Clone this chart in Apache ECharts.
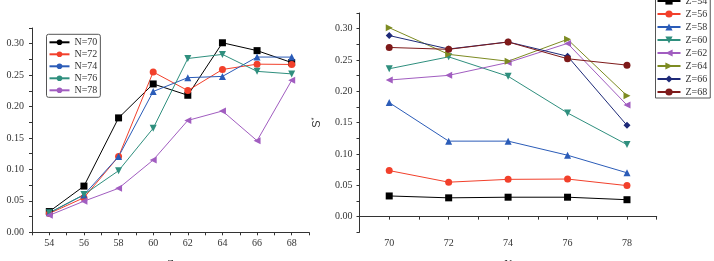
<!DOCTYPE html>
<html>
<head>
<meta charset="utf-8">
<script src="https://cdn.jsdelivr.net/npm/echarts@6/dist/echarts.min.js"></script>
<style>
  html, body { margin: 0; padding: 0; background: #fff; }
  #chart { width: 714px; height: 261px; }
</style>
</head>
<body>
<div id="chart"></div>
<script>
const zValues = [54, 56, 58, 60, 62, 64, 66, 68];
const nValues = [70, 72, 74, 76, 78];

// S* for each N over zValues
const sN70 = [0.033, 0.0735, 0.182, 0.236, 0.218, 0.3015, 0.289, 0.270];
const sN72 = [0.030, 0.055, 0.1205, 0.255, 0.2255, 0.259, 0.2675, 0.267];
const sN74 = [0.031, 0.0595, 0.1205, 0.224, 0.246, 0.248, 0.2788, 0.2787];
const sN76 = [0.031, 0.060, 0.098, 0.1655, 0.2765, 0.283, 0.256, 0.252];
const sN78 = [0.027, 0.0495, 0.070, 0.115, 0.178, 0.193, 0.1457, 0.2418];

const yTicksLeft = ['0.00', '0.05', '0.10', '0.15', '0.20', '0.25', '0.30'];

const nRows = [sN70, sN72, sN74, sN76, sN78];
const nColors = ['#000000', '#f2402b', '#2b5cb8', '#2f8f7e', '#a15dc0'];
const nSymbols = [['rect', 0], ['circle', 0], ['triangle', 0], ['triangle', 180], ['triangle', 90]];

const zColors = ['#000000', '#f2402b', '#2b5cb8', '#2f8f7e', '#a15dc0', '#7d8b22', '#1e2a78', '#7e1a1a'];
const zSymbols = [['rect', 0], ['circle', 0], ['triangle', 0], ['triangle', 180], ['triangle', 90],
  ['triangle', -90], ['diamond', 0], ['circle', 0]];

const serif = 'Liberation Serif';

function tickLabel(v) {
  const k = Math.round(v * 1000);
  return k % 50 === 0 ? (v).toFixed(2) : '';
}

function evenLabel(v) {
  return v % 2 === 0 ? String(v) : '';
}

function baseAxis() {
  return {
    axisLine: { show: true, lineStyle: { color: '#333', width: 1 } },
    axisTick: { show: true, length: 3, lineStyle: { color: '#333' } },
    axisLabel: { color: '#333', fontFamily: serif, fontSize: 10 },
    splitLine: { show: false },
  };
}

const series = [];
// legend-only series so the left legend shows circles
nValues.forEach((n, i) => {
  series.push({
    name: 'N=' + n, type: 'line', xAxisIndex: 0, yAxisIndex: 0, data: [],
    symbol: 'circle', color: nColors[i], lineStyle: { width: 1 },
  });
});
nValues.forEach((n, i) => {
  series.push({
    name: 'N=' + n, type: 'line', xAxisIndex: 0, yAxisIndex: 0,
    data: zValues.map((z, j) => [z, nRows[i][j]]),
    symbol: nSymbols[i][0], symbolRotate: nSymbols[i][1], symbolSize: 7,
    color: nColors[i], lineStyle: { width: 1 },
  });
});
zValues.forEach((z, j) => {
  series.push({
    name: 'Z=' + z, type: 'line', xAxisIndex: 1, yAxisIndex: 1,
    data: nValues.map((n, i) => [n, nRows[i][j]]),
    symbol: zSymbols[j][0], symbolRotate: zSymbols[j][1], symbolSize: 7,
    color: zColors[j], lineStyle: { width: 1 },
  });
});

const chart = echarts.init(document.getElementById('chart'));
chart.setOption({
  animation: false,
  backgroundColor: '#fff',
  textStyle: { fontFamily: serif },
  grid: [
    { left: 32, top: 28, width: 277, height: 204.3, containLabel: false, outerBoundsMode: 'none' },
    { left: 359.5, top: 13, width: 297.2, height: 219.3, containLabel: false, outerBoundsMode: 'none' },
  ],
  legend: [
    {
      data: nValues.map(n => 'N=' + n),
      orient: 'vertical', left: 46.5, top: 34.3,
      itemWidth: 20, itemHeight: 7, itemGap: 2, itemTextGap: 5,
      padding: [3, 3, 2, 2],
      borderColor: '#555', borderWidth: 1, borderRadius: 2,
      backgroundColor: '#fff',
      textStyle: { fontFamily: serif, fontSize: 10, color: '#333' },
    },
    {
      data: zValues.map(z => 'Z=' + z),
      orient: 'vertical', left: 655.5, top: -7,
      itemWidth: 23, itemHeight: 9, itemGap: 3, itemTextGap: 5,
      padding: [3, 3, 1, 1],
      borderColor: '#555', borderWidth: 1, borderRadius: 0,
      backgroundColor: '#fff',
      textStyle: { fontFamily: serif, fontSize: 10, color: '#333' },
    },
  ],
  xAxis: [
    Object.assign(baseAxis(), {
      type: 'value', gridIndex: 0, min: 53, max: 69, interval: 1,
      name: 'Z', nameLocation: 'middle', nameGap: 26,
      nameTextStyle: { fontFamily: serif, fontSize: 11, color: '#333' },
      axisLabel: { color: '#333', fontFamily: serif, fontSize: 10, margin: 6, formatter: evenLabel },
    }),
    Object.assign(baseAxis(), {
      type: 'value', gridIndex: 1, min: 69, max: 79, interval: 1,
      name: 'N', nameLocation: 'middle', nameGap: 26,
      nameTextStyle: { fontFamily: serif, fontSize: 11, color: '#333' },
      axisLabel: { color: '#333', fontFamily: serif, fontSize: 10, margin: 6, formatter: evenLabel },
    }),
  ],
  yAxis: [
    Object.assign(baseAxis(), {
      type: 'value', gridIndex: 0, min: 0, max: 0.325, interval: 0.025,
      axisLabel: {
        color: '#333', fontFamily: serif, fontSize: 10, margin: 8,
        formatter: v => { const t = tickLabel(v); return yTicksLeft.includes(t) ? t : ''; },
      },
    }),
    Object.assign(baseAxis(), {
      type: 'value', gridIndex: 1, min: -0.025, max: 0.325, interval: 0.025,
      name: 'S{sup|*}', nameLocation: 'middle', nameGap: 36,
      nameTextStyle: {
        fontFamily: 'Liberation Sans', fontSize: 11, color: '#333',
        rich: { sup: { fontFamily: 'Liberation Sans', fontSize: 7, verticalAlign: 'top', padding: [0, 0, 6, 0] } },
      },
      axisLabel: {
        color: '#333', fontFamily: serif, fontSize: 10, margin: 7,
        formatter: v => { const t = tickLabel(v); return yTicksLeft.includes(t) ? t : ''; },
      },
    }),
  ],
  series: series,
});
</script>
</body>
</html>
